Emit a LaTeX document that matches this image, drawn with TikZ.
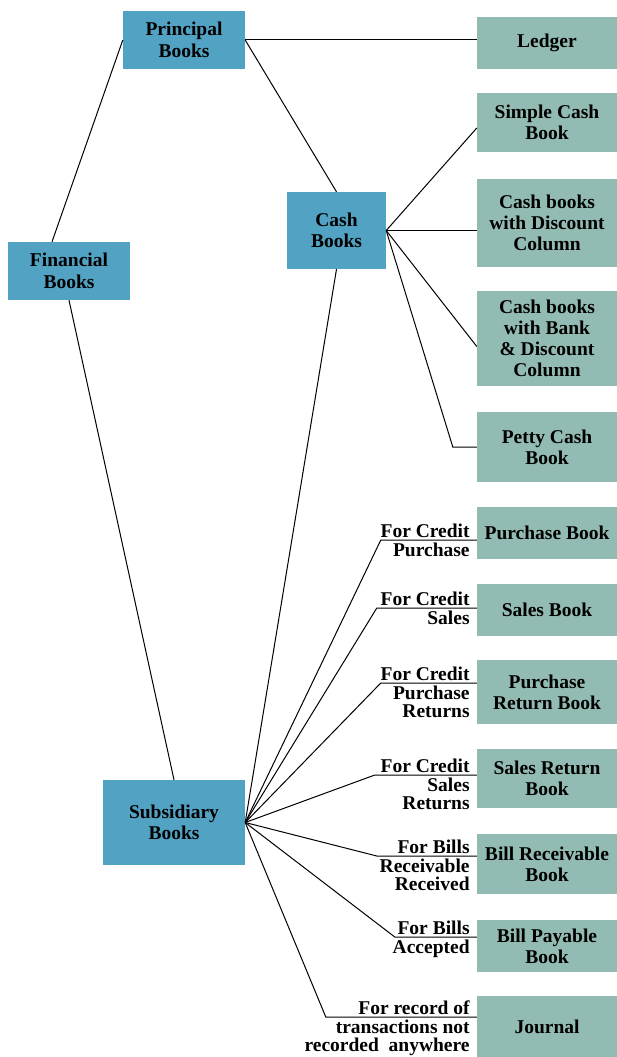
\documentclass[tikz,border=0pt]{standalone}
\usepackage{fontspec}
\setmainfont{Liberation Serif}
\definecolor{bookblue}{RGB}{82,162,196}
\definecolor{bookgreen}{RGB}{146,188,179}
\begin{document}
\begin{tikzpicture}[x=1pt,y=-1pt,
        mainbox/.style={fill=bookblue, inner sep=0pt, align=center, font=\fontsize{19.5}{21.5}\selectfont\bfseries},
        subbox/.style={fill=bookgreen, inner sep=0pt, minimum width=140pt, align=center, font=\fontsize{19.5}{21}\selectfont\bfseries},
        lbl/.style={inner sep=2.5pt, align=right, font=\fontsize{19.5}{18.5}\selectfont\bfseries},
        link/.style={black, line width=1pt}]
        \useasboundingbox (0,0) rectangle (617,1057);

        \node[mainbox, minimum width=122pt, minimum height=58pt] (pb) at (184,40) {Principal\\Books};
        \node[mainbox, minimum width=99pt, minimum height=77pt] (cb) at (336.5,230.5) {Cash\\Books};
        \node[mainbox, minimum width=122pt, minimum height=58pt] (fin) at (69,271) {Financial\\Books};
        \node[mainbox, minimum width=142pt, minimum height=85pt] (sb) at (174,822.5) {Subsidiary\\Books};

        \node[subbox, minimum height=52pt] (ledger) at (547,43) {Ledger};
        \node[subbox, minimum height=59pt] (simple) at (547,122.5) {Simple Cash\\Book};
        \node[subbox, minimum height=88pt] (disc) at (547,223) {Cash books\\with Discount\\Column};
        \node[subbox, minimum height=95pt] (bank) at (547,338.5) {Cash books\\with Bank\\\& Discount\\Column};
        \node[subbox, minimum height=70pt] (petty) at (547,447) {Petty Cash\\Book};
        \node[subbox, minimum height=52pt] (purch) at (547,533) {Purchase Book};
        \node[subbox, minimum height=52pt] (sales) at (547,610) {Sales Book};
        \node[subbox, minimum height=64pt] (purchret) at (547,692) {Purchase\\Return Book};
        \node[subbox, minimum height=59pt] (salesret) at (547,778.5) {Sales Return\\Book};
        \node[subbox, minimum height=60pt] (billrec) at (547,864) {Bill Receivable\\Book};
        \node[subbox, minimum height=52pt] (billpay) at (547,946) {Bill Payable\\Book};
        \node[subbox, minimum height=61pt] (journal) at (547,1026.5) {Journal};

        \draw[link] ([xshift=-17pt]fin.north) -- (pb.west);
        \draw[link] (fin.south) -- (sb.north);
        \draw[link] (pb.east) -- (pb.east -| ledger.west);
        \draw[link] (pb.east) -- (cb.north);
        \draw[link] (cb.south) -- (sb.east);

        \draw[link] (cb.east) -- ([yshift=-5.5pt]simple.west);
        \draw[link] (cb.east) -- (cb.east -| disc.west);
        \draw[link] (cb.east) -- ([yshift=-8pt]bank.west);
        \draw[link] (cb.east) -- ([xshift=-24pt]petty.west) -- (petty.west);

        \coordinate (purchK) at ([yshift=-7pt]purch.west);
        \coordinate (salesK) at ([yshift=2pt]sales.west);
        \coordinate (purchretK) at ([yshift=9pt]purchret.west);
        \coordinate (salesretK) at ([yshift=3.5pt]salesret.west);
        \coordinate (billrecK) at ([yshift=8pt]billrec.west);
        \coordinate (billpayK) at ([yshift=9pt]billpay.west);
        \coordinate (journalK) at ([yshift=9.5pt]journal.west);

        \draw[link] (sb.east) -- ([xshift=-96pt]purchK) -- (purchK);
        \draw[link] (sb.east) -- ([xshift=-100pt]salesK) -- (salesK);
        \draw[link] (sb.east) -- ([xshift=-96pt]purchretK) -- (purchretK);
        \draw[link] (sb.east) -- ([xshift=-102pt]salesretK) -- (salesretK);
        \draw[link] (sb.east) -- ([xshift=-100pt]billrecK) -- (billrecK);
        \draw[link] (sb.east) -- ([xshift=-82pt]billpayK) -- (billpayK);
        \draw[link] (sb.east) -- ([xshift=-151pt]journalK) -- (journalK);

        \node[lbl, anchor=south east] (purchA) at ([xshift=-4.5pt]purchK) {For Credit};
        \node[lbl, anchor=north east] (purchB) at ([xshift=-4.5pt]purchK) {Purchase};
        \node[lbl, anchor=south east] (salesA) at ([xshift=-4.5pt]salesK) {For Credit};
        \node[lbl, anchor=north east] (salesB) at ([xshift=-4.5pt]salesK) {Sales};
        \node[lbl, anchor=south east] (purchretA) at ([xshift=-4.5pt]purchretK) {For Credit};
        \node[lbl, anchor=north east] (purchretB) at ([xshift=-4.5pt]purchretK) {Purchase\\Returns};
        \node[lbl, anchor=south east] (salesretA) at ([xshift=-4.5pt]salesretK) {For Credit};
        \node[lbl, anchor=north east] (salesretB) at ([xshift=-4.5pt]salesretK) {Sales\\Returns};
        \node[lbl, anchor=south east] (billrecA) at ([xshift=-4.5pt]billrecK) {For Bills};
        \node[lbl, anchor=north east] (billrecB) at ([xshift=-4.5pt]billrecK) {Receivable\\Received};
        \node[lbl, anchor=south east] (billpayA) at ([xshift=-4.5pt]billpayK) {For Bills};
        \node[lbl, anchor=north east] (billpayB) at ([xshift=-4.5pt]billpayK) {Accepted};
        \node[lbl, anchor=south east] (journalA) at ([xshift=-4.5pt]journalK) {For record of};
        \node[lbl, anchor=north east] (journalB) at ([xshift=-4.5pt]journalK) {transactions not\\recorded~~anywhere};
\end{tikzpicture}
\end{document}
